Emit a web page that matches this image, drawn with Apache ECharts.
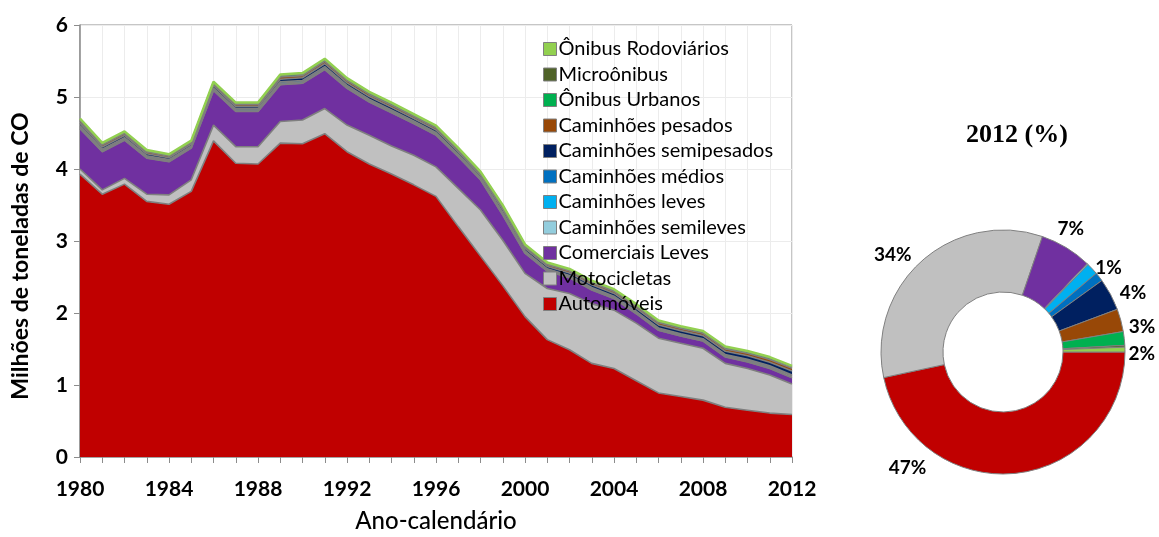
<!DOCTYPE html>
<html>
<head>
<meta charset="utf-8">
<script src="https://cdn.jsdelivr.net/npm/echarts@6/dist/echarts.min.js"></script>
<style>
  html, body { margin: 0; padding: 0; background: #fff; }
  #chart { width: 1159px; height: 537px; }
</style>
</head>
<body>
<div id="chart"></div>
<script>
// anos 1980..2012
var anos = ['1980','1981','1982','1983','1984','1985','1986','1987','1988','1989','1990',
  '1991','1992','1993','1994','1995','1996','1997','1998','1999','2000','2001','2002',
  '2003','2004','2005','2006','2007','2008','2009','2010','2011','2012'];

// emissões de CO (milhões de toneladas) por categoria
var automoveis = [3.93,3.65,3.79,3.55,3.51,3.69,4.39,4.08,4.07,4.36,4.35,4.49,4.24,4.07,3.93,3.78,3.62,
  3.20,2.79,2.38,1.95,1.63,1.49,1.30,1.23,1.06,0.89,0.84,0.79,0.69,0.65,0.61,0.59];
var motocicletas = [0.07,0.06,0.08,0.10,0.13,0.16,0.22,0.23,0.24,0.30,0.33,0.35,0.37,0.40,0.39,0.41,0.41,
  0.53,0.64,0.63,0.60,0.71,0.78,0.83,0.81,0.80,0.76,0.74,0.72,0.61,0.58,0.53,0.425];
var comerciaisLeves = [0.56,0.53,0.53,0.50,0.46,0.44,0.48,0.49,0.49,0.51,0.51,0.54,0.51,0.46,0.46,0.44,0.44,
  0.44,0.42,0.35,0.28,0.24,0.22,0.19,0.16,0.13,0.11,0.10,0.10,0.09,0.09,0.09,0.087];
var camSemileves = [0.004,0.003,0.003,0.003,0.003,0.003,0.003,0.003,0.003,0.003,0.003,0.003,0.003,0.003,0.003,0.003,0.003,
  0.003,0.003,0.003,0.003,0.003,0.002,0.002,0.002,0.002,0.002,0.002,0.002,0.002,0.002,0.002,0.002];
var camLeves = [0.018,0.016,0.016,0.015,0.013,0.013,0.016,0.016,0.016,0.018,0.018,0.019,0.018,0.018,0.018,0.017,0.017,
  0.016,0.015,0.018,0.016,0.016,0.016,0.017,0.017,0.017,0.017,0.017,0.017,0.018,0.019,0.019,0.020];
var camMedios = [0.020,0.017,0.017,0.015,0.014,0.014,0.016,0.016,0.016,0.019,0.019,0.020,0.019,0.018,0.018,0.017,0.017,
  0.015,0.014,0.017,0.015,0.014,0.014,0.015,0.015,0.015,0.014,0.014,0.014,0.014,0.015,0.015,0.015];
var camSemipesados = [0.035,0.030,0.030,0.028,0.026,0.026,0.031,0.031,0.031,0.037,0.037,0.040,0.037,0.037,0.037,0.034,0.034,
  0.032,0.029,0.037,0.032,0.033,0.034,0.037,0.038,0.039,0.041,0.042,0.043,0.045,0.049,0.051,0.054];
var camPesados = [0.030,0.026,0.026,0.024,0.022,0.022,0.026,0.026,0.026,0.030,0.030,0.032,0.030,0.030,0.030,0.028,0.028,
  0.026,0.024,0.030,0.026,0.026,0.026,0.028,0.028,0.029,0.030,0.031,0.032,0.033,0.035,0.037,0.038];
var onibusUrbanos = [0.022,0.019,0.019,0.018,0.016,0.016,0.019,0.019,0.019,0.022,0.022,0.024,0.022,0.022,0.022,0.021,0.021,
  0.019,0.018,0.022,0.019,0.019,0.019,0.020,0.020,0.020,0.020,0.020,0.021,0.021,0.022,0.023,0.023];
var microonibus = [0.002,0.002,0.002,0.002,0.002,0.002,0.002,0.002,0.002,0.003,0.003,0.003,0.003,0.003,0.003,0.003,0.003,
  0.003,0.003,0.003,0.003,0.003,0.003,0.003,0.003,0.003,0.003,0.003,0.003,0.003,0.003,0.003,0.003];
var onibusRodoviarios = [0.010,0.009,0.009,0.008,0.008,0.008,0.009,0.009,0.009,0.010,0.010,0.011,0.010,0.010,0.010,0.009,0.009,
  0.009,0.008,0.009,0.008,0.008,0.008,0.008,0.008,0.008,0.008,0.008,0.008,0.008,0.008,0.008,0.008];

var categorias = [
  { nome: 'Automóveis', dados: automoveis, cor: '#C00000', rotulo: true },
  { nome: 'Motocicletas', dados: motocicletas, cor: '#C0C0C0', rotulo: true },
  { nome: 'Comerciais Leves', dados: comerciaisLeves, cor: '#7030A0', rotulo: true },
  { nome: 'Caminhões semileves', dados: camSemileves, cor: '#93CDDD', rotulo: false },
  { nome: 'Caminhões leves', dados: camLeves, cor: '#00B0F0', rotulo: false },
  { nome: 'Caminhões médios', dados: camMedios, cor: '#0070C0', rotulo: true },
  { nome: 'Caminhões semipesados', dados: camSemipesados, cor: '#002060', rotulo: true },
  { nome: 'Caminhões pesados', dados: camPesados, cor: '#984807', rotulo: true },
  { nome: 'Ônibus Urbanos', dados: onibusUrbanos, cor: '#00B050', rotulo: true },
  { nome: 'Microônibus', dados: microonibus, cor: '#4F6228', rotulo: false },
  { nome: 'Ônibus Rodoviários', dados: onibusRodoviarios, cor: '#92D050', rotulo: false }
];

var fonte = 'Lato, "Open Sans", sans-serif';
var myChart = echarts.init(document.getElementById('chart'));

var series = categorias.map(function (c, i) {
  var topo = i === categorias.length - 1;
  return {
    name: c.nome,
    type: 'line',
    stack: 'total',
    symbol: 'none',
    color: c.cor,
    areaStyle: { color: c.cor, opacity: 1 },
    lineStyle: { color: topo ? '#92D050' : '#7f7f7f', width: topo ? 2.5 : 1.6 },
    data: c.dados
  };
});

// deslocamento dos rótulos da rosca, como no Excel
var ajusteRotulo = { 0: [-133, -13], 2: [-18, -12], 5: [-12, -4], 7: [0, 9], 8: [-4, 15] };

// rosca de 2012 a partir do último ano de cada série
series.push({
  type: 'pie',
  center: [1003, 352],
  radius: [60, 122],
  startAngle: 0,
  clockwise: true,
  itemStyle: { borderColor: '#808080', borderWidth: 1 },
  label: {
    position: 'outside',
    overflow: 'none',
    formatter: function (p) { return Math.round(p.percent) + '%'; },
    fontFamily: fonte, fontSize: 19, fontWeight: 'bold', color: '#000'
  },
  labelLine: { show: false, length: 8, length2: 0 },
  labelLayout: function (p) {
    var a = ajusteRotulo[p.dataIndex];
    if (a) return { dx: a[0], dy: a[1] };
  },
  emphasis: { disabled: true },
  data: categorias.map(function (c) {
    return {
      name: c.nome,
      value: c.dados[c.dados.length - 1],
      itemStyle: { color: c.cor },
      label: { show: c.rotulo }
    };
  })
});

var option = {
  backgroundColor: '#fff',
  animation: false,
  title: {
    text: '2012 (%)',
    left: 1012,
    top: 117,
    textAlign: 'center',
    textStyle: { fontFamily: '"Liberation Serif", serif', fontSize: 26, fontWeight: 'bold', color: '#000' }
  },
  legend: {
    orient: 'vertical',
    left: 538,
    top: 34,
    itemWidth: 13,
    itemHeight: 13,
    itemGap: 5.5,
    icon: 'rect',
    itemStyle: { borderColor: '#808080', borderWidth: 1 },
    textStyle: { fontFamily: fonte, fontSize: 20, color: '#000', padding: [0, 0, 0, -3] },
    data: categorias.map(function (c) { return c.nome; }).reverse()
  },
  grid: {
    left: 80, right: 367, top: 25, bottom: 80,
    outerBoundsMode: 'none',
    show: true, borderColor: '#8c8c8c', borderWidth: 1
  },
  xAxis: {
    type: 'category',
    boundaryGap: false,
    data: anos,
    name: 'Ano-calendário',
    nameLocation: 'middle',
    nameGap: 52,
    nameTextStyle: { fontFamily: fonte, fontSize: 24, fontWeight: 500, color: '#000' },
    axisLine: { lineStyle: { color: '#8c8c8c', width: 1.5 } },
    axisTick: { interval: 0, length: 6, lineStyle: { color: '#8c8c8c' } },
    axisLabel: { interval: 3, margin: 22, fontFamily: fonte, fontSize: 21, fontWeight: 'bold', color: '#000' },
    splitLine: { show: true, interval: 0, lineStyle: { color: '#ececec' } }
  },
  yAxis: {
    type: 'value',
    min: 0, max: 6, interval: 1,
    name: 'Milhões de toneladas de CO',
    nameLocation: 'middle',
    nameGap: 48,
    nameTextStyle: { fontFamily: fonte, fontSize: 23, fontWeight: 'bold', color: '#000', padding: [0, 30, 0, 0] },
    axisLine: { show: true, lineStyle: { color: '#8c8c8c', width: 1.5 } },
    axisTick: { show: true, length: 6, lineStyle: { color: '#8c8c8c' } },
    axisLabel: { margin: 12, fontFamily: fonte, fontSize: 21, fontWeight: 'bold', color: '#000' },
    splitLine: { lineStyle: { color: '#ececec' } }
  },
  series: series
};

myChart.setOption(option);
</script>
</body>
</html>
